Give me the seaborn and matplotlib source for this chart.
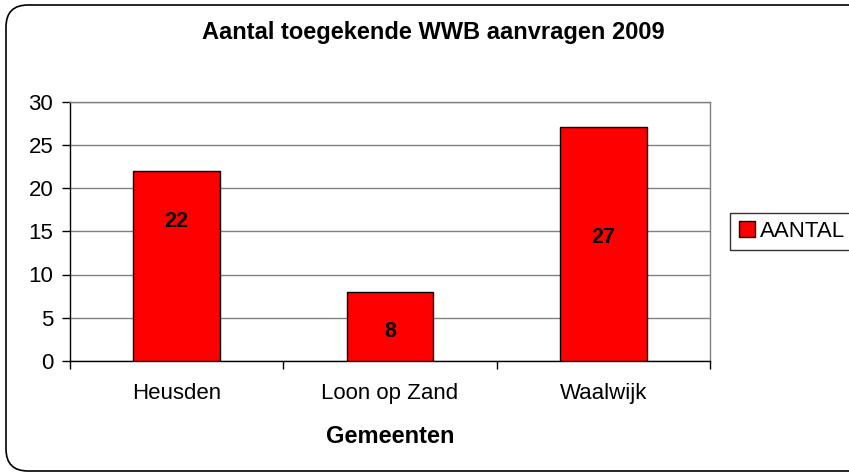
import matplotlib
matplotlib.use("Agg")
import matplotlib.pyplot as plt
import seaborn as sns
from matplotlib.patches import FancyBboxPatch
from matplotlib.lines import Line2D
from matplotlib.transforms import IdentityTransform

categories = ["Heusden", "Loon op Zand", "Waalwijk"]
values = [22, 8, 27]
series_name = "AANTAL"
title = "Aantal toegekende WWB aanvragen 2009"
xlabel = "Gemeenten"
yticks = [0, 5, 10, 15, 20, 25, 30]
label_y = [16.1, 3.4, 14.3]  # label anchor heights as seen in picture

sns.set_style("white")
plt.rcParams["font.family"] = ["Liberation Sans", "DejaVu Sans"]
plt.rcParams["text.color"] = "black"
plt.rcParams["axes.labelcolor"] = "black"
plt.rcParams["xtick.color"] = "black"
plt.rcParams["ytick.color"] = "black"

W, H = 849, 475
fig = plt.figure(figsize=(W / 100, H / 100), dpi=100)
ax = fig.add_axes([70 / W, 1 - 361 / H, 640 / W, 259.5 / H])

sns.barplot(x=categories, y=values, color="#FF0000", edgecolor="black",
            linewidth=1.0, width=0.405, saturation=1, ax=ax, zorder=3)

ax.set_ylim(0, 30)
ax.set_xlim(-0.5, len(categories) - 0.5)
ax.set_yticks(yticks)
ax.set_yticklabels([str(t) for t in yticks], fontsize=16)
ax.yaxis.grid(True, color="#808080", linewidth=1.0, zorder=0)
ax.set_axisbelow(True)

# x ticks between categories, labels centered
ax.set_xticks([i - 0.5 for i in range(len(categories) + 1)])
ax.set_xticklabels([])
ax.set_xticks(range(len(categories)), minor=True)
ax.set_xticklabels(categories, minor=True, fontsize=16)
ax.tick_params(axis="x", which="major", bottom=True, direction="out",
               length=6, width=1, color="black")
ax.tick_params(axis="x", which="minor", bottom=False, length=0, pad=16)
ax.tick_params(axis="y", left=True, direction="out", length=6, width=1,
               color="black", pad=6)

for s in ["left", "bottom"]:
    ax.spines[s].set_color("black")
    ax.spines[s].set_linewidth(1.0)
for s in ["top", "right"]:
    ax.spines[s].set_color("#808080")
    ax.spines[s].set_linewidth(1.0)

ax.set_xlabel(xlabel, fontsize=17, fontweight="bold", labelpad=15)
ax.set_ylabel("")

for i, (v, ly) in enumerate(zip(values, label_y)):
    ax.text(i, ly, str(v), ha="center", va="center", fontsize=15.5,
            fontweight="bold", color="black", zorder=5)

fig.text(433.5 / W, 1 - 32 / H, title, ha="center", va="center",
         fontsize=17, fontweight="bold", color="black")

handle = Line2D([], [], marker="s", linestyle="none", markersize=11,
                markerfacecolor="#FF0000", markeredgecolor="black", markeredgewidth=1)
leg = fig.legend([handle], [series_name], loc="center left",
                 bbox_to_anchor=(730 / W, 1 - 231.5 / H), fontsize=16,
                 frameon=True, fancybox=False, handlelength=0.8,
                 handletextpad=0.2, borderpad=0.35, borderaxespad=0)
leg.get_frame().set_edgecolor("black")
leg.get_frame().set_linewidth(1.0)
for t in leg.get_texts():
    t.set_color("black")

border = FancyBboxPatch((6, H - 471), 880, 466,
                        boxstyle="round,pad=0,rounding_size=22",
                        transform=IdentityTransform(), facecolor="none",
                        edgecolor="black", linewidth=1.2)
fig.patches.append(border)

fig.savefig("out.png", dpi=100)
